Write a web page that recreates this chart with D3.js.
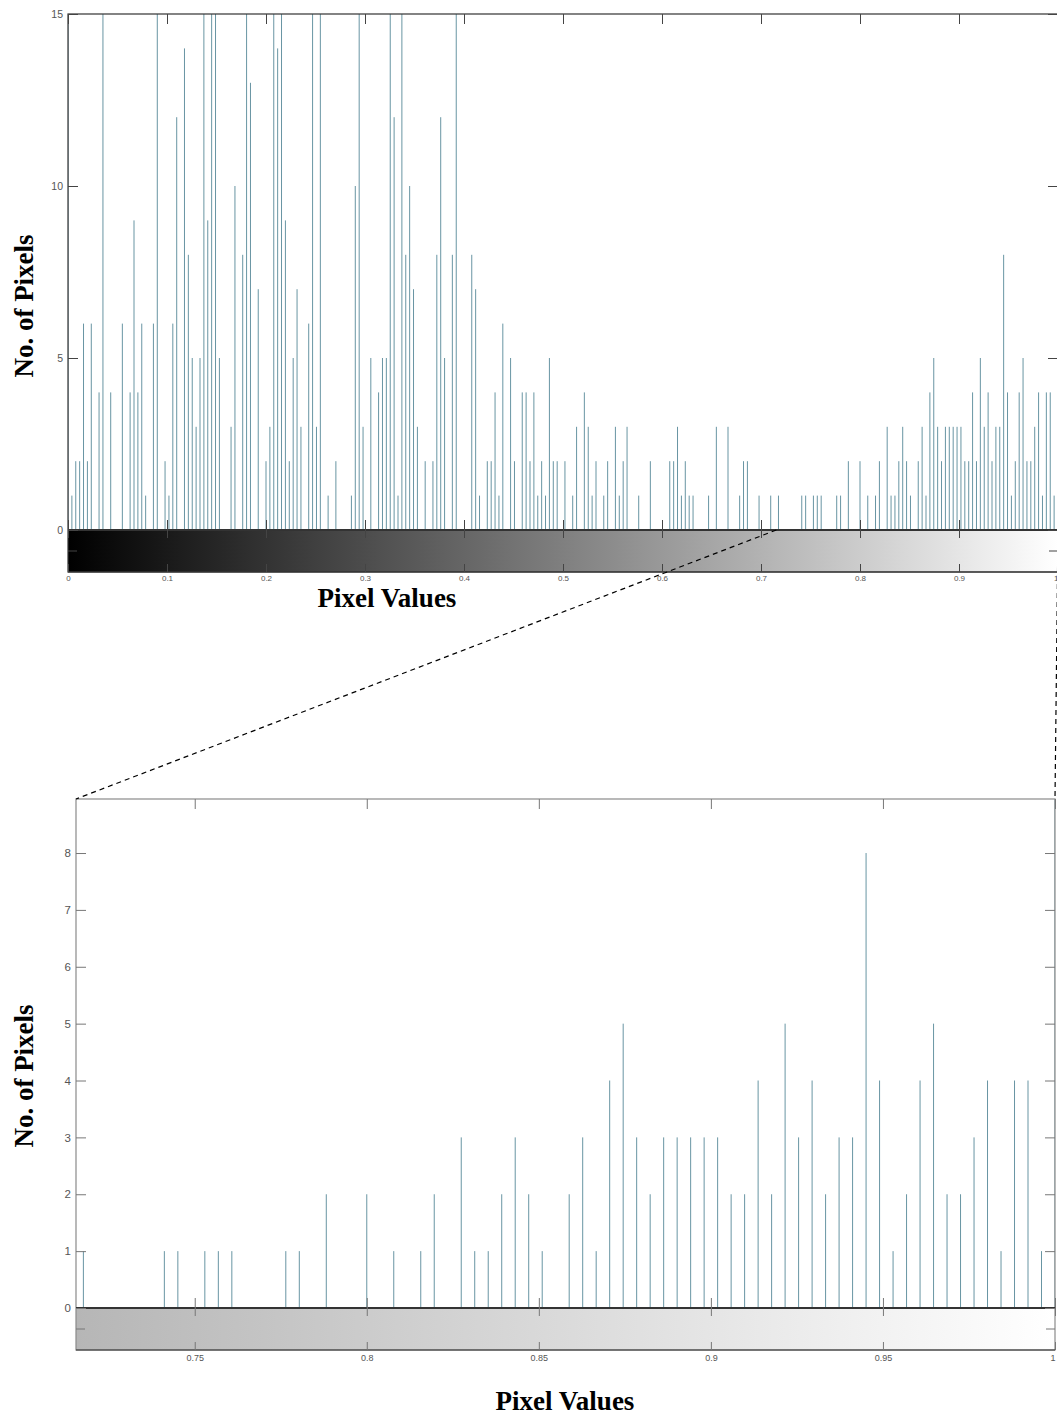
<!DOCTYPE html>
<html>
<head>
<meta charset="utf-8">
<script src="https://cdn.jsdelivr.net/npm/d3@7"></script>
<style>
body { margin: 0; background: #fff; }
svg { display: block; }
.tick text { font-family: "Liberation Sans", Arial, sans-serif; fill: #555; }
.title { font-family: "Liberation Serif", "Times New Roman", serif; font-weight: bold; font-size: 27px; fill: #000; }
</style>
</head>
<body>
<svg id="chart" width="1057" height="1416"></svg>
<script>
// histogram of a grey image, 256 bins (bin k sits at k/255); only non-empty bins listed
var binIndex = [
	0, 1, 2, 3, 4, 5, 6, 8, 9, 11, 14, 16, 17, 18, 19, 20, 22, 23, 25, 26, 27, 28, 30, 31, 32,
	33, 34, 35, 36, 37, 38, 39, 42, 43, 45, 46, 47, 49, 51, 52, 53, 54, 55, 56, 57, 58, 59, 60,
	62, 63, 64, 65, 67, 69, 73, 74, 75, 76, 78, 80, 81, 82, 83, 84, 85, 86, 87, 88, 89, 90, 92,
	94, 95, 96, 97, 99, 100, 104, 105, 106, 108, 109, 110, 111, 112, 114, 115, 117, 118, 119,
	120, 121, 122, 123, 124, 125, 126, 128, 130, 131, 133, 134, 135, 136, 138, 139, 141, 142,
	143, 144, 147, 150, 155, 156, 157, 158, 159, 160, 161, 165, 167, 170, 173, 174, 175, 178,
	181, 183, 189, 190, 192, 193, 194, 198, 199, 201, 204, 206, 208, 209, 211, 212, 213, 214,
	215, 216, 217, 219, 220, 221, 222, 223, 224, 225, 226, 227, 228, 229, 230, 231, 232, 233,
	234, 235, 236, 237, 238, 239, 240, 241, 242, 243, 244, 245, 246, 247, 248, 249, 250, 251,
	252, 253, 254, 255
];
var binCount = [
	20, 1, 2, 2, 6, 2, 6, 4, 20, 4, 6, 4, 9, 4, 6, 1, 6, 20, 2, 1, 6, 12, 14, 8, 5,
	3, 5, 20, 9, 20, 20, 5, 3, 10, 8, 20, 13, 7, 2, 3, 20, 14, 20, 9, 2, 5, 7, 3,
	6, 20, 3, 20, 1, 2, 1, 10, 20, 3, 5, 4, 5, 5, 20, 12, 1, 20, 8, 10, 7, 3, 2,
	2, 8, 12, 5, 8, 20, 8, 7, 1, 2, 2, 4, 1, 6, 5, 2, 4, 4, 2,
	4, 1, 2, 1, 5, 2, 2, 2, 1, 3, 4, 3, 1, 2, 1, 2, 3, 1,
	2, 3, 1, 2, 2, 2, 3, 1, 2, 1, 1, 1, 3, 3, 1, 2, 2, 1,
	1, 1, 1, 1, 1, 1, 1, 1, 1, 2, 2, 1, 1, 2, 3, 1, 1, 2,
	3, 2, 1, 2, 3, 1, 4, 5, 3, 2, 3, 3, 3, 3, 3, 2, 2, 4,
	2, 5, 3, 4, 2, 3, 3, 8, 4, 1, 2, 4, 5, 2, 2, 3, 4, 1,
	4, 4, 1, 20
];
var levels = 255;

var fullTicksX = [0, 0.1, 0.2, 0.3, 0.4, 0.5, 0.6, 0.7, 0.8, 0.9, 1];
var fullTicksY = [0, 5, 10, 15];
var zoomTicksX = [0.75, 0.8, 0.85, 0.9, 0.95, 1];
var zoomTicksY = [0, 1, 2, 3, 4, 5, 6, 7, 8];
var fullRangeX = [0, 1];
var fullRangeY = [0, 15];
var zoomRangeX = [0.7155, 1];
var zoomRangeY = [0, 8.95];

var hist = binIndex.map(function(k, i) {
	return { value: k / levels, count: binCount[i] };
});

var svg = d3.select("#chart");
var defs = svg.append("defs");
var fmt = d3.format("~g");

function panel(o) {
	var x = d3.scaleLinear().domain(o.xDomain).range([o.left, o.right]);
	var y = d3.scaleLinear().domain(o.yDomain).range([o.zero, o.top]);
	var g = svg.append("g");

	defs.append("clipPath").attr("id", o.id + "-clip")
		.append("rect")
			.attr("x", o.left).attr("y", o.top)
			.attr("width", o.right - o.left).attr("height", o.zero - o.top);

	// grey ramp under the histogram, plain sRGB greys
	var grad = defs.append("linearGradient").attr("id", o.id + "-ramp")
		.attr("x1", "0%").attr("x2", "100%").attr("y1", "0%").attr("y2", "0%");
	grad.selectAll("stop").data(o.xDomain).enter().append("stop")
		.attr("offset", function(d, i) { return i ? "100%" : "0%"; })
		.attr("stop-color", function(d) {
			var v = Math.round(d * 255);
			return d3.rgb(v, v, v);
		});
	g.append("rect")
		.attr("x", o.left).attr("y", o.zero)
		.attr("width", o.right - o.left).attr("height", o.barBottom - o.zero)
		.attr("fill", "url(#" + o.id + "-ramp)");

	var inView = hist.filter(function(d) {
		return d.value >= o.xDomain[0] - 1e-9 && d.value <= o.xDomain[1] + 1e-9;
	});
	g.append("g").attr("clip-path", "url(#" + o.id + "-clip)")
		.selectAll("line").data(inView).enter().append("line")
			.attr("x1", function(d) { return x(d.value); })
			.attr("x2", function(d) { return x(d.value); })
			.attr("y1", y(0))
			.attr("y2", function(d) { return y(d.count); })
			.attr("stroke", "#6895a3")
			.attr("stroke-width", 1);

	// frame
	g.append("rect")
		.attr("x", o.left).attr("y", o.top)
		.attr("width", o.right - o.left).attr("height", o.barBottom - o.top)
		.attr("fill", "none").attr("stroke", o.frame).attr("stroke-width", 1.2);
	g.append("line")
		.attr("x1", o.left).attr("x2", o.right)
		.attr("y1", o.zero).attr("y2", o.zero)
		.attr("stroke", "#333").attr("stroke-width", 2);
	g.append("line")
		.attr("x1", o.left).attr("x2", o.right)
		.attr("y1", o.barBottom).attr("y2", o.barBottom)
		.attr("stroke", "#333").attr("stroke-width", 1.2);

	function clean(sel) {
		sel.select(".domain").remove();
		sel.selectAll(".tick line").attr("stroke", o.tickColor);
	}

	g.append("g").attr("transform", "translate(0," + o.top + ")")
		.call(d3.axisTop(x).tickValues(o.xTicks).tickFormat("").tickSize(-10)).call(clean);
	g.append("g").attr("transform", "translate(0," + o.zero + ")")
		.call(d3.axisBottom(x).tickValues(o.xTicks).tickFormat("").tickSize(-10)).call(clean);
	g.append("g").attr("transform", "translate(0," + o.zero + ")")
		.call(d3.axisTop(x).tickValues(o.xTicks).tickFormat("").tickSize(-8)).call(clean);
	var xl = g.append("g").attr("transform", "translate(0," + o.barBottom + ")")
		.call(d3.axisBottom(x).tickValues(o.xTicks).tickFormat(fmt).tickSize(-8).tickPadding(o.xPad)).call(clean);
	xl.selectAll("text").style("font-size", o.xFont + "px")
		.attr("text-anchor", function(d) { return x(d) > 1050 ? "end" : "middle"; });

	var yTicks = o.yTicks.filter(function(v) { return v <= o.yDomain[1]; });
	g.append("g").attr("transform", "translate(" + o.left + ",0)")
		.call(d3.axisLeft(y).tickValues(yTicks).tickFormat(fmt).tickSize(-10).tickPadding(5)).call(clean)
		.selectAll("text").style("font-size", o.yFont + "px");
	g.append("g").attr("transform", "translate(" + o.right + ",0)")
		.call(d3.axisRight(y).tickValues(yTicks).tickFormat("").tickSize(-10)).call(clean);

	// single mid tick on the ramp's own axes
	var mid = (o.zero + o.barBottom) / 2;
	g.append("line").attr("x1", o.left).attr("x2", o.left + 9).attr("y1", mid).attr("y2", mid).attr("stroke", o.tickColor);
	g.append("line").attr("x1", o.right).attr("x2", o.right - 9).attr("y1", mid).attr("y2", mid).attr("stroke", o.tickColor);

	g.append("text").attr("class", "title")
		.attr("x", o.xTitle[0]).attr("y", o.xTitle[1])
		.attr("text-anchor", "middle").text("Pixel Values");
	g.append("text").attr("class", "title")
		.attr("transform", "translate(" + o.yTitle[0] + "," + o.yTitle[1] + ") rotate(-90)")
		.attr("text-anchor", "middle").text("No. of Pixels");

	return { x: x, y: y };
}

var full = panel({
	id: "full", left: 68, right: 1058, top: 14, zero: 530, barBottom: 572,
	xDomain: fullRangeX, yDomain: fullRangeY, xTicks: fullTicksX, yTicks: fullTicksY,
	frame: "#333", tickColor: "#444", xFont: 8, yFont: 10.5, xPad: 3,
	xTitle: [387, 607], yTitle: [33, 306]
});

var zoom = panel({
	id: "zoom", left: 76, right: 1055, top: 799, zero: 1308, barBottom: 1350,
	xDomain: zoomRangeX, yDomain: zoomRangeY, xTicks: zoomTicksX, yTicks: zoomTicksY,
	frame: "#8a8a8a", tickColor: "#777", xFont: 9, yFont: 11.5, xPad: 5,
	xTitle: [565, 1410], yTitle: [33, 1076]
});

// connector lines from the zoomed range in the full view to the zoom panel corners
var links = [
	[full.x(zoomRangeX[0]), full.y(0), zoom.x(zoomRangeX[0]), zoom.y(zoomRangeY[1])],
	[full.x(zoomRangeX[1]), full.y(0), zoom.x(zoomRangeX[1]), zoom.y(zoomRangeY[1])]
];
svg.append("g").selectAll("line").data(links).enter().append("line")
	.attr("x1", function(d) { return d[0]; })
	.attr("y1", function(d) { return d[1]; })
	.attr("x2", function(d) { return d[2]; })
	.attr("y2", function(d) { return d[3]; })
	.attr("stroke", "#000")
	.attr("stroke-width", 1.2)
	.attr("stroke-dasharray", "5,4");
</script>
</body>
</html>
